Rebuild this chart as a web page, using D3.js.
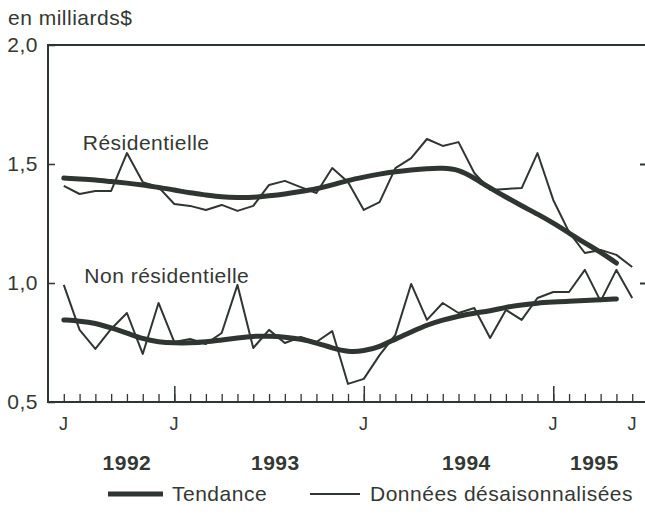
<!DOCTYPE html>
<html>
<head>
<meta charset="utf-8">
<script src="https://cdn.jsdelivr.net/npm/d3@7"></script>
<style>
  body { margin: 0; background: #fff; }
  text { font-family: "Liberation Sans", Arial, sans-serif; fill: #333833; letter-spacing: 0.5px; }
</style>
</head>
<body>
<div id="chart"></div>
<script>
// months counted from June 1992 (t = 0) to June 1995 (t = 36)
var resData = [1.408, 1.374, 1.387, 1.387, 1.546, 1.424, 1.403, 1.332, 1.324, 1.307,
  1.328, 1.303, 1.324, 1.412, 1.429, 1.403, 1.378, 1.483, 1.424, 1.307,
  1.340, 1.483, 1.525, 1.605, 1.576, 1.592, 1.462, 1.391, 1.395, 1.399,
  1.546, 1.349, 1.214, 1.126, 1.139, 1.118, 1.067]
var resTrend = [1.441, 1.437, 1.433, 1.426, 1.420, 1.412, 1.401, 1.391, 1.378, 1.370,
  1.361, 1.359, 1.359, 1.366, 1.374, 1.384, 1.395, 1.412, 1.431, 1.445,
  1.458, 1.468, 1.475, 1.481, 1.483, 1.477, 1.441, 1.399, 1.361, 1.324,
  1.290, 1.252, 1.210, 1.168, 1.130, 1.084]
var nonresData = [0.992, 0.803, 0.723, 0.807, 0.874, 0.702, 0.916, 0.752, 0.765, 0.744,
  0.790, 0.992, 0.727, 0.803, 0.748, 0.773, 0.752, 0.798, 0.576, 0.597,
  0.697, 0.782, 0.996, 0.845, 0.916, 0.874, 0.895, 0.769, 0.887, 0.845,
  0.937, 0.962, 0.962, 1.055, 0.924, 1.055, 0.937]
var nonresTrend = [0.845, 0.840, 0.832, 0.811, 0.790, 0.765, 0.752, 0.748, 0.748, 0.752,
  0.761, 0.769, 0.777, 0.777, 0.773, 0.765, 0.748, 0.727, 0.710, 0.714,
  0.731, 0.765, 0.794, 0.824, 0.845, 0.861, 0.874, 0.882, 0.899, 0.908,
  0.916, 0.920, 0.924, 0.926, 0.929, 0.933]

var yTicks = [0.5, 1.0, 1.5, 2.0]
var monthLabels = [{t: 0, label: 'J'}, {t: 7, label: 'J'}, {t: 19, label: 'J'}, {t: 31, label: 'J'}, {t: 36, label: 'J'}]
var yearTicks = [7, 19, 31]
var yearLabels = [{t: 4, label: '1992'}, {t: 13.4, label: '1993'}, {t: 25.5, label: '1994'}, {t: 33.6, label: '1995'}]
var seriesLabels = [{t: 1.2, v: 1.56, label: 'Résidentielle'}, {t: 1.3, v: 1.0, label: 'Non résidentielle'}]
var legendItems = [{label: 'Tendance', w: 5}, {label: 'Données désaisonnalisées', w: 1.8}]

var width = 645,
    height = 516,
    margin = {left: 48, right: -3, top: 45, bottom: 114}
var ink = '#2f3631'
var fs = 21

var svg = d3.select('#chart')
  .append('svg')
    .attr('width', width)
    .attr('height', height)

var x = d3.scaleLinear().domain([-1, 37]).range([margin.left, width - margin.right])
var y = d3.scaleLinear().domain([0.5, 2.0]).range([height - margin.bottom, margin.top])

var fmt = function(d){ return d3.format('.1f')(d).replace('.', ',') }

// frame
svg.append('path')
    .attr('d', ['M', x(37), y(2), 'H', x(-1), 'V', y(0.5), 'H', x(37)].join(' '))
    .attr('fill', 'none')
    .attr('stroke', ink)
    .attr('stroke-width', 2)

var left = svg.append('g')
    .attr('transform', 'translate(' + x(-1) + ',0)')
    .call(d3.axisLeft(y).tickValues(yTicks).tickSize(-7).tickPadding(10).tickFormat(fmt))
left.select('.domain').remove()
left.selectAll('line').attr('stroke', ink).attr('stroke-width', 1.5)
left.attr('font-family', null).attr('font-size', null)
left.selectAll('text').attr('font-size', fs).style('fill', '#333833')

var right = svg.append('g')
    .attr('transform', 'translate(' + x(37) + ',0)')
    .call(d3.axisRight(y).tickValues([1.0, 1.5]).tickSize(-8).tickFormat(''))
right.select('.domain').remove()
right.selectAll('line').attr('stroke', ink).attr('stroke-width', 2)

var months = d3.range(0, 37)
var bottom = svg.append('g')
    .attr('transform', 'translate(0,' + y(0.5) + ')')
    .call(d3.axisBottom(x).tickValues(months).tickSize(-8).tickFormat(''))
bottom.select('.domain').remove()
bottom.selectAll('line').attr('stroke', ink).attr('stroke-width', 1.3)

var major = svg.append('g')
    .attr('transform', 'translate(0,' + y(0.5) + ')')
    .call(d3.axisBottom(x).tickValues(yearTicks).tickSize(-16).tickFormat(''))
major.select('.domain').remove()
major.selectAll('line').attr('stroke', ink).attr('stroke-width', 1.5)

svg.selectAll('.mlabel')
    .data(monthLabels)
  .enter().append('text')
    .attr('x', function(d){ return x(d.t) })
    .attr('y', 430)
    .attr('text-anchor', 'middle')
    .attr('font-size', 18)
    .text(function(d){ return d.label })

svg.selectAll('.ylabel')
    .data(yearLabels)
  .enter().append('text')
    .attr('x', function(d){ return x(d.t) })
    .attr('y', 470)
    .attr('text-anchor', 'middle')
    .attr('font-size', fs)
    .attr('font-weight', 'bold')
    .text(function(d){ return d.label })

svg.append('text')
    .attr('x', 8)
    .attr('y', 25)
    .attr('font-size', fs)
    .text('en milliards$')

svg.selectAll('.slabel')
    .data(seriesLabels)
  .enter().append('text')
    .attr('x', function(d){ return x(d.t) })
    .attr('y', function(d){ return y(d.v) })
    .attr('font-size', fs)
    .text(function(d){ return d.label })

var thin = d3.line()
    .x(function(d, i){ return x(i) })
    .y(function(d){ return y(d) })
var smooth = d3.line()
    .x(function(d, i){ return x(i) })
    .y(function(d){ return y(d) })
    .curve(d3.curveBasis)

;[resData, nonresData].forEach(function(s){
  svg.append('path')
      .attr('d', thin(s))
      .attr('fill', 'none')
      .attr('stroke', ink)
      .attr('stroke-width', 2)
      .attr('stroke-linejoin', 'round')
})
;[resTrend, nonresTrend].forEach(function(s){
  svg.append('path')
      .attr('d', smooth(s))
      .attr('fill', 'none')
      .attr('stroke', ink)
      .attr('stroke-width', 5)
      .attr('stroke-linecap', 'round')
})

// legend
var legendX = [108, 310]
var leg = svg.selectAll('.legend')
    .data(legendItems)
  .enter().append('g')
    .attr('transform', function(d, i){ return 'translate(' + legendX[i] + ',494)' })
leg.append('line')
    .attr('x1', 0).attr('x2', function(d, i){ return i ? 50 : 55 })
    .attr('stroke', ink)
    .attr('stroke-width', function(d){ return d.w })
leg.append('text')
    .attr('x', function(d, i){ return i ? 60 : 64 })
    .attr('y', 7)
    .attr('font-size', fs)
    .text(function(d){ return d.label })
</script>
</body>
</html>
